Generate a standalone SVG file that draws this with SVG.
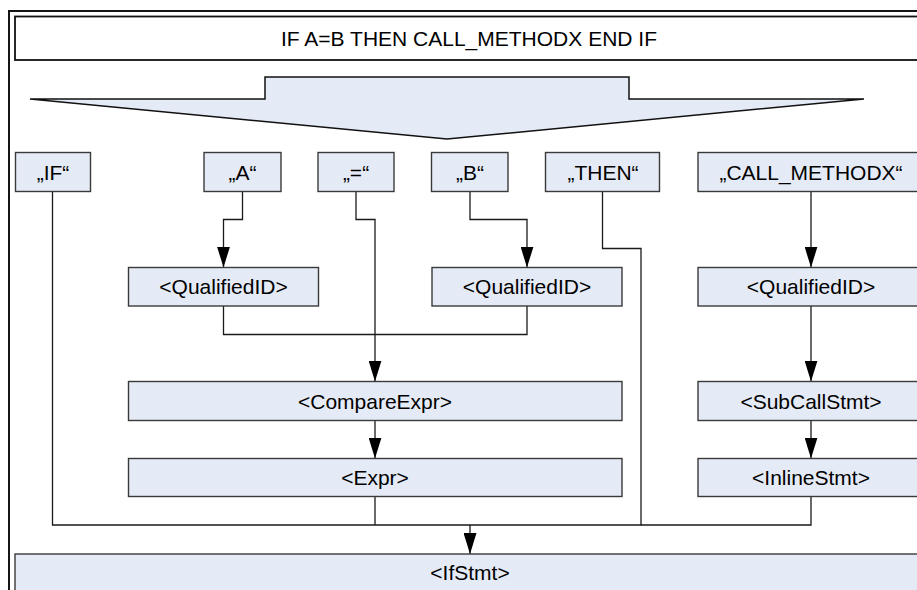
<svg xmlns="http://www.w3.org/2000/svg" width="917" height="590" viewBox="0 0 917 590">
  <defs>
    <style>
      .box { fill: #E5EBF6; stroke: #3a3a3a; stroke-width: 1.4; }
      .lbl { font-family: "Liberation Sans", Arial, sans-serif; font-size: 21px; fill: #000; text-anchor: middle; }
      .con { fill: none; stroke: #1a1a1a; stroke-width: 1.3; }
      .arr { marker-end: url(#ah); }
    </style>
    <marker id="ah" markerUnits="userSpaceOnUse" markerWidth="13" markerHeight="21" viewBox="0 0 13 21" refX="6.5" refY="21" orient="0">
      <path d="M0,0 L13,0 L6.5,21 Z" fill="#000"/>
    </marker>
  </defs>

  <rect x="0" y="0" width="917" height="590" fill="#fff"/>

  <g id="frame">
    <path d="M9,592 V11 H920" fill="none" stroke="#151515" stroke-width="2"/>
  </g>

  <g id="title">
    <rect x="15" y="16.5" width="920" height="43.5" fill="#fff" stroke="#111" stroke-width="1.8"/>
    <text class="lbl" x="469" y="46">IF A=B THEN CALL_METHODX END IF</text>
  </g>

  <g id="splitter">
    <polygon points="30,99 265,99 265,77 629,77 629,99 864,99 447,139" fill="#E5EBF6" stroke="#111" stroke-width="1.5" stroke-linejoin="miter"/>
  </g>

  <g id="connectors">
    <path class="con" d="M52.5,191.5 V525 H470"/>
    <path class="con" d="M375,496.5 V525"/>
    <path class="con" d="M602.5,191.5 V248.5 H641 V525 H470"/>
    <path class="con" d="M811,496.5 V525 H641"/>
    <path class="con arr" d="M470,525 V554"/>
    <path class="con arr" d="M242.5,191.5 V219.5 H223.5 V267.5"/>
    <path class="con arr" d="M356,191.5 V219.5 H375 V381.5"/>
    <path class="con arr" d="M470,191.5 V219.5 H527 V267.5"/>
    <path class="con" d="M223.5,306 V334.5 H527 V306"/>
    <path class="con arr" d="M375,420.5 V458.5"/>
    <path class="con arr" d="M811,191.5 V267.5"/>
    <path class="con arr" d="M811,306 V381.5"/>
    <path class="con arr" d="M811,420.5 V458.5"/>
  </g>

  <g id="tok-if">
    <rect class="box" x="15.5" y="152.5" width="75" height="39"/>
    <text class="lbl" x="53" y="179.5">„IF“</text>
  </g>
  <g id="tok-a">
    <rect class="box" x="204" y="152.5" width="77" height="39"/>
    <text class="lbl" x="242.5" y="179.5">„A“</text>
  </g>
  <g id="tok-eq">
    <rect class="box" x="318" y="152.5" width="76" height="39"/>
    <text class="lbl" x="356" y="179.5">„=“</text>
  </g>
  <g id="tok-b">
    <rect class="box" x="431.5" y="152.5" width="76.5" height="39"/>
    <text class="lbl" x="470" y="179.5">„B“</text>
  </g>
  <g id="tok-then">
    <rect class="box" x="545.5" y="152.5" width="114" height="39"/>
    <text class="lbl" x="603" y="179.5">„THEN“</text>
  </g>
  <g id="tok-call">
    <rect class="box" x="698" y="152.5" width="226" height="39"/>
    <text class="lbl" x="811" y="179.5">„CALL_METHODX“</text>
  </g>

  <g id="qid-a">
    <rect class="box" x="128.5" y="267.5" width="190" height="38.5"/>
    <text class="lbl" x="223.5" y="294">&lt;QualifiedID&gt;</text>
  </g>
  <g id="qid-b">
    <rect class="box" x="432" y="267.5" width="190" height="38.5"/>
    <text class="lbl" x="527" y="294">&lt;QualifiedID&gt;</text>
  </g>
  <g id="qid-call">
    <rect class="box" x="698" y="267.5" width="226" height="38.5"/>
    <text class="lbl" x="811" y="294">&lt;QualifiedID&gt;</text>
  </g>

  <g id="compare">
    <rect class="box" x="128.5" y="381.5" width="493.5" height="39"/>
    <text class="lbl" x="375" y="408.5">&lt;CompareExpr&gt;</text>
  </g>
  <g id="expr">
    <rect class="box" x="128.5" y="458.5" width="493.5" height="38"/>
    <text class="lbl" x="375" y="484.5">&lt;Expr&gt;</text>
  </g>
  <g id="subcall">
    <rect class="box" x="698" y="381.5" width="226" height="39"/>
    <text class="lbl" x="811" y="408.5">&lt;SubCallStmt&gt;</text>
  </g>
  <g id="inline">
    <rect class="box" x="698" y="458.5" width="226" height="38"/>
    <text class="lbl" x="811" y="484.5">&lt;InlineStmt&gt;</text>
  </g>

  <g id="ifstmt">
    <rect class="box" x="15" y="554" width="910" height="45"/>
    <text class="lbl" x="470" y="580">&lt;IfStmt&gt;</text>
  </g>
</svg>
